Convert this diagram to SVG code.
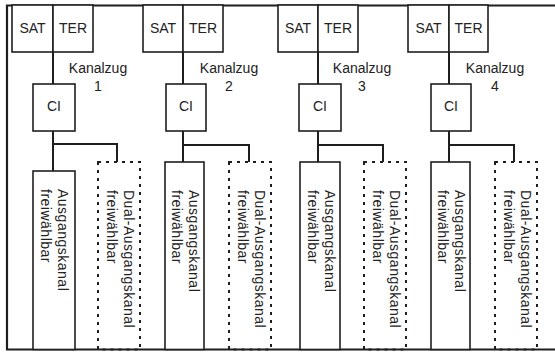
<svg xmlns="http://www.w3.org/2000/svg" width="555" height="352" viewBox="0 0 555 352">
<style>
.box{fill:#fff;stroke:#1e1e1e;stroke-width:1.6}
.dot{fill:none;stroke:#1e1e1e;stroke-width:2;stroke-dasharray:3 5}
.ln{fill:none;stroke:#1e1e1e;stroke-width:1.6}
.frame{fill:none;stroke:#1e1e1e;stroke-width:2.2}
text{font-family:"Liberation Sans",Arial,sans-serif;font-size:14px;fill:#222}
.c{text-anchor:middle}
.v{font-size:14px;letter-spacing:0.5px}
</style>
<rect width="555" height="352" fill="#fff"/>
<path class="frame" d="M556,5.5 H7 V349.5 H556"/>

<g id="connectors">
  <!-- column 1 -->
  <path class="ln" d="M53,5 V84 M53,131 V171 M53,144 H117 V162" style="stroke-width:2"/>
  <path class="ln" d="M183,5 V84 M183,131 V162 M183,145 H249 V162" style="stroke-width:2"/>
  <path class="ln" d="M318,5 V84 M318,131 V162 M318,145 H383 V162" style="stroke-width:2"/>
  <path class="ln" d="M449,5 V84 M449,131 V162 M449,145 H514 V162" style="stroke-width:2"/>
</g>

<!-- Column 1 -->
<g id="sat1"><rect class="box" x="12" y="5" width="41" height="47"/><text class="c" x="32.5" y="33">SAT</text></g>
<g id="ter1"><rect class="box" x="53" y="5" width="40" height="47"/><text class="c" x="73" y="33">TER</text></g>
<g id="kanalzug1"><text class="c" x="98" y="73">Kanalzug</text><text class="c" x="98" y="91">1</text></g>
<g id="ci1"><rect class="box" x="33" y="84" width="42" height="47"/><text class="c" x="54" y="111">CI</text></g>
<g id="out1"><rect class="box" x="33" y="171" width="42" height="178.5"/>
  <text class="v" transform="translate(58,189) rotate(90)">Ausgangskanal</text>
  <text class="v" transform="translate(41,189) rotate(90)">freiwählbar</text></g>
<g id="dual1"><rect class="dot" x="98" y="162" width="42" height="187.5"/>
  <text class="v" transform="translate(124,190) rotate(90)">Dual-Ausgangskanal</text>
  <text class="v" transform="translate(107,190) rotate(90)">freiwählbar</text></g>

<!-- Column 2 -->
<g id="sat2"><rect class="box" x="143" y="5" width="40" height="47"/><text class="c" x="163" y="33">SAT</text></g>
<g id="ter2"><rect class="box" x="183" y="5" width="40" height="47"/><text class="c" x="203" y="33">TER</text></g>
<g id="kanalzug2"><text class="c" x="229" y="73">Kanalzug</text><text class="c" x="229" y="91">2</text></g>
<g id="ci2"><rect class="box" x="166" y="84" width="40" height="47"/><text class="c" x="186" y="111">CI</text></g>
<g id="out2"><rect class="box" x="165" y="162" width="39" height="187.5"/>
  <text class="v" transform="translate(189,190) rotate(90)">Ausgangskanal</text>
  <text class="v" transform="translate(172,190) rotate(90)">freiwählbar</text></g>
<g id="dual2"><rect class="dot" x="229" y="162" width="42" height="187.5"/>
  <text class="v" transform="translate(255,190) rotate(90)">Dual-Ausgangskanal</text>
  <text class="v" transform="translate(238,190) rotate(90)">freiwählbar</text></g>

<!-- Column 3 -->
<g id="sat3"><rect class="box" x="278" y="5" width="40" height="47"/><text class="c" x="298" y="33">SAT</text></g>
<g id="ter3"><rect class="box" x="318" y="5" width="40" height="47"/><text class="c" x="338" y="33">TER</text></g>
<g id="kanalzug3"><text class="c" x="362" y="73">Kanalzug</text><text class="c" x="362" y="91">3</text></g>
<g id="ci3"><rect class="box" x="299" y="84" width="42" height="47"/><text class="c" x="320" y="111">CI</text></g>
<g id="out3"><rect class="box" x="300" y="162" width="40" height="187.5"/>
  <text class="v" transform="translate(325,190) rotate(90)">Ausgangskanal</text>
  <text class="v" transform="translate(308,190) rotate(90)">freiwählbar</text></g>
<g id="dual3"><rect class="dot" x="364" y="162" width="42" height="187.5"/>
  <text class="v" transform="translate(390,190) rotate(90)">Dual-Ausgangskanal</text>
  <text class="v" transform="translate(373,190) rotate(90)">freiwählbar</text></g>

<!-- Column 4 -->
<g id="sat4"><rect class="box" x="408" y="5" width="41" height="47"/><text class="c" x="428.5" y="33">SAT</text></g>
<g id="ter4"><rect class="box" x="449" y="5" width="39" height="47"/><text class="c" x="468.5" y="33">TER</text></g>
<g id="kanalzug4"><text class="c" x="495" y="73">Kanalzug</text><text class="c" x="495" y="91">4</text></g>
<g id="ci4"><rect class="box" x="431" y="84" width="40" height="47"/><text class="c" x="451" y="111">CI</text></g>
<g id="out4"><rect class="box" x="431" y="162" width="39" height="187.5"/>
  <text class="v" transform="translate(455,190) rotate(90)">Ausgangskanal</text>
  <text class="v" transform="translate(438,190) rotate(90)">freiwählbar</text></g>
<g id="dual4"><rect class="dot" x="495" y="162" width="42" height="187.5"/>
  <text class="v" transform="translate(521,190) rotate(90)">Dual-Ausgangskanal</text>
  <text class="v" transform="translate(504,190) rotate(90)">freiwählbar</text></g>
</svg>
